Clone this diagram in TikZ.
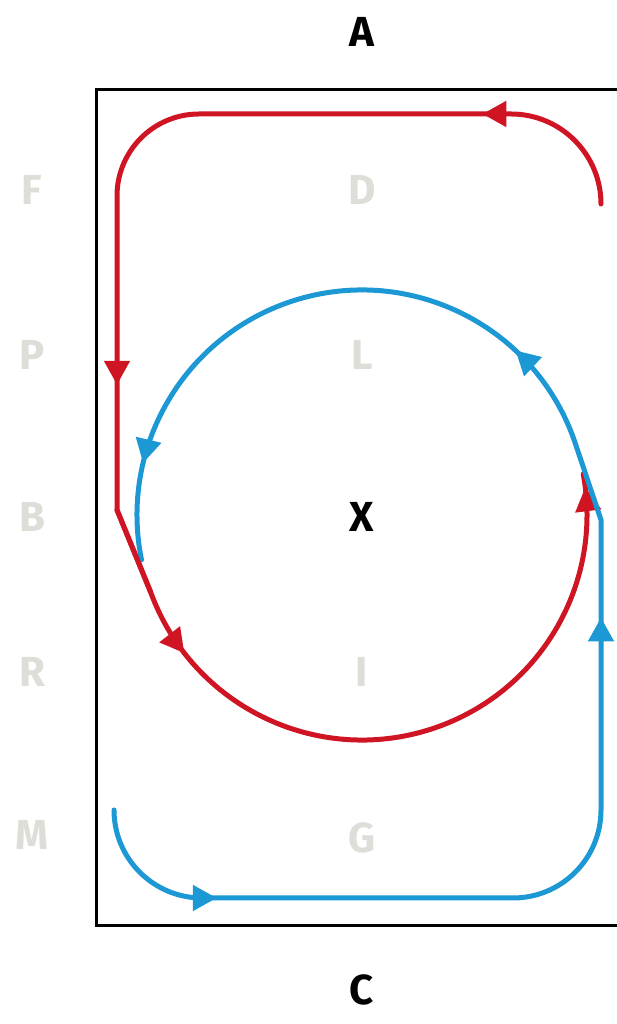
\documentclass[tikz,border=0pt]{standalone}
\usepackage{fontspec}
\setsansfont{Fira Sans}
\usetikzlibrary{calc,arrows.meta,decorations.markings}
\definecolor{flowred}{HTML}{CF1423}
\definecolor{flowblue}{HTML}{1C98D4}
\definecolor{faint}{HTML}{DEDED8}
\tikzset{
  flow/.style={line width=5pt, line cap=round},
  tipat/.style={postaction={decorate, decoration={markings, mark=at position #1pt with {\arrow{Triangle[length=24pt,width=25pt]}}}}},
  lbl/.style={font=\sffamily\bfseries\fontsize{42}{46}\selectfont, inner sep=0pt},
}
\begin{document}
\begin{tikzpicture}[x=1pt,y=1pt]
  \useasboundingbox (0,0) rectangle (616,1024);
  \fill[white] (0,0) rectangle (616,1024);
  \coordinate (O) at (362,509);
  % frame, open on the right
  \draw[line width=3pt] (630,934) -- (96,934) -- (96,98) -- (630,98);
  % red loop
  \draw[flow, flowred, tipat=170, tipat=771, tipat=1055, tipat=1641]
    (601,820) arc[start angle=0, end angle=90, radius=90] -- (199,910)
    arc[start angle=90, end angle=180, radius=82] -- (117,514)
    -- ($(O)+(200:225)$) arc[start angle=200, end angle=370.5, radius=225];
  % blue loop
  \draw[flow, flowblue, tipat=153, tipat=780, tipat=1070, tipat=1540]
    (114,214) arc[start angle=180, end angle=270, radius=88] -- (513,126)
    arc[start angle=270, end angle=360, radius=88] -- (601,504)
    -- ($(O)+(18:225)$) arc[start angle=18, end angle=191.5, radius=225];
  \draw[flow, flowred] (117,514) -- ($(O)+(200:225)$);
  % labels
  \node[lbl] (A) at (362,992) {A};
  \node[lbl] (C) at (362,34) {C};
  \node[lbl] (X) at (362,507) {X};
  \foreach \n/\y in {F/834, P/669, B/507, R/352, M/189} { \node[lbl, faint] (\n) at (32,\y) {\n}; }
  \foreach \n/\y in {D/834, L/669, I/352, G/186} { \node[lbl, faint] (\n) at (362,\y) {\n}; }
\end{tikzpicture}
\end{document}
